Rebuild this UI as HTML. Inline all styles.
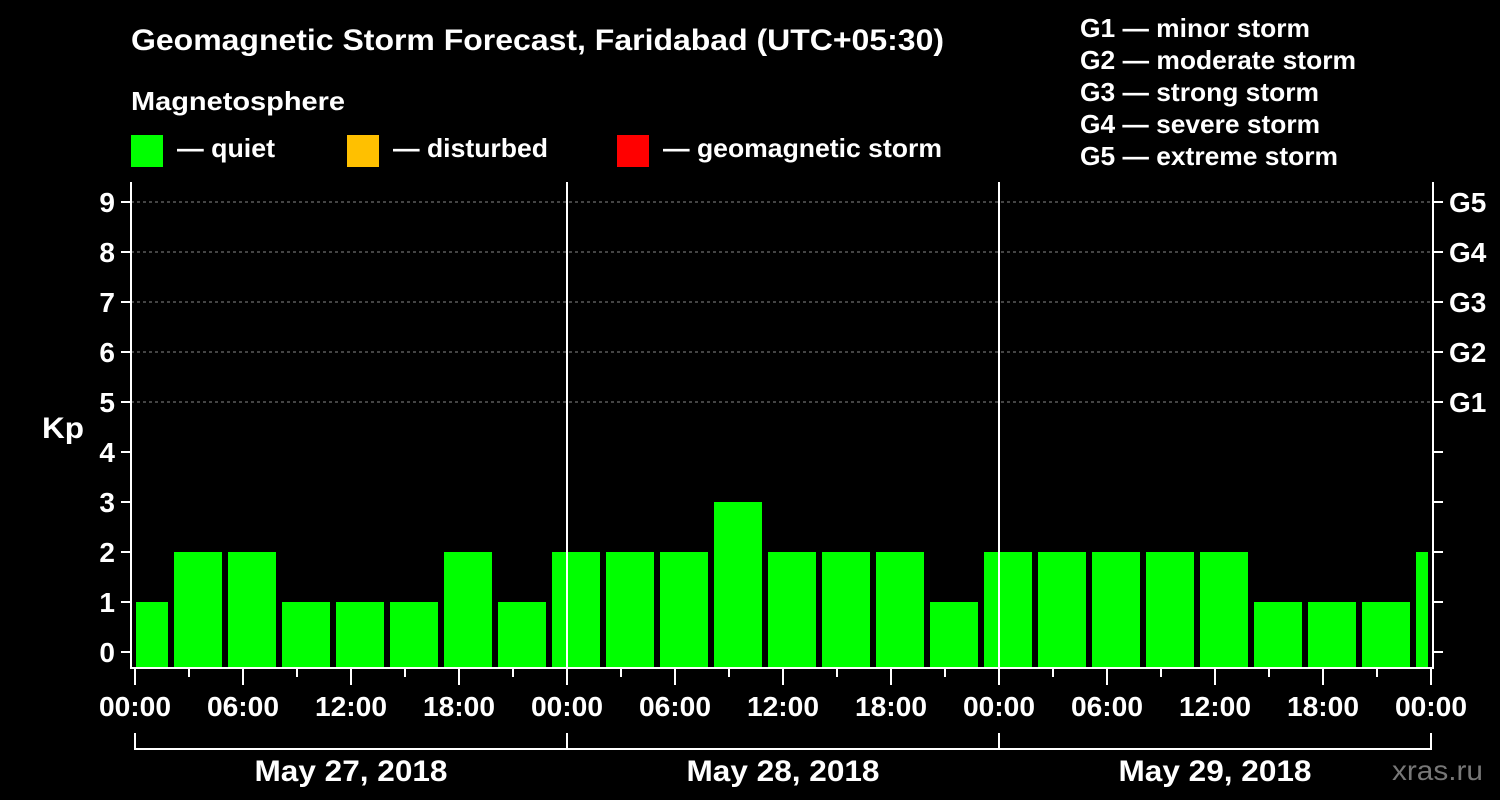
<!DOCTYPE html>
<html><head><meta charset="utf-8"><style>
html,body{margin:0;padding:0;background:#000;}
svg{display:block;font-family:"Liberation Sans",Arial,sans-serif;font-weight:bold;}
</style></head><body>
<svg width="1500" height="800" viewBox="0 0 1500 800">
<rect width="1500" height="800" fill="#000"/>
<text x="131" y="50" fill="#fff" font-size="30" textLength="813" lengthAdjust="spacingAndGlyphs">Geomagnetic Storm Forecast, Faridabad (UTC+05:30)</text>
<text x="131" y="110" fill="#fff" font-size="26" textLength="214" lengthAdjust="spacingAndGlyphs">Magnetosphere</text>
<g><rect x="131" y="135" width="32" height="32" fill="#00ff00"/><text x="177" y="157" fill="#fff" font-size="26" textLength="98" lengthAdjust="spacingAndGlyphs">— quiet</text></g>
<g><rect x="347" y="135" width="32" height="32" fill="#ffc000"/><text x="393" y="157" fill="#fff" font-size="26" textLength="155" lengthAdjust="spacingAndGlyphs">— disturbed</text></g>
<g><rect x="617" y="135" width="32" height="32" fill="#ff0000"/><text x="663" y="157" fill="#fff" font-size="26" textLength="279" lengthAdjust="spacingAndGlyphs">— geomagnetic storm</text></g>
<g fill="#fff" font-size="26">
<text x="1080" y="37" textLength="230" lengthAdjust="spacingAndGlyphs">G1 — minor storm</text>
<text x="1080" y="69" textLength="276" lengthAdjust="spacingAndGlyphs">G2 — moderate storm</text>
<text x="1080" y="101" textLength="239" lengthAdjust="spacingAndGlyphs">G3 — strong storm</text>
<text x="1080" y="133" textLength="240" lengthAdjust="spacingAndGlyphs">G4 — severe storm</text>
<text x="1080" y="165" textLength="258" lengthAdjust="spacingAndGlyphs">G5 — extreme storm</text>
</g>
<text x="42" y="438" fill="#fff" font-size="30" textLength="42" lengthAdjust="spacingAndGlyphs">Kp</text>
<text x="1392" y="780" fill="#777" font-size="28" font-weight="normal" textLength="91" lengthAdjust="spacingAndGlyphs">xras.ru</text>
<g id="grid"></g><g id="bars"></g><g id="axes"></g>
</svg>
<script>
const kpValues=[1,2,2,1,1,1,2,1,2,2,2,3,2,2,2,1,2,2,2,2,2,1,1,1,2];
const hourLabels=["00:00","06:00","12:00","18:00","00:00","06:00","12:00","18:00","00:00","06:00","12:00","18:00","00:00"];
const dayLabels=["May 27, 2018","May 28, 2018","May 29, 2018"];
const gLabels=["G1","G2","G3","G4","G5"];
const NS="http://www.w3.org/2000/svg";
const X0=135,PX_H=18,Y0=652,PX_K=50,BOT=668,LEFT=131,RIGHT=1433,TOP=182;
const firstBoundaryH=2;
function x(h){return X0+h*PX_H;}
function y(k){return Y0-k*PX_K;}
function mk(tag,attrs,parent){const e=document.createElementNS(NS,tag);for(const k in attrs)e.setAttribute(k,attrs[k]);parent.appendChild(e);return e;}
const grid=document.getElementById('grid'),bars=document.getElementById('bars'),axes=document.getElementById('axes');
for(let k=5;k<=9;k++){
 const l=mk('line',{x1:LEFT,x2:RIGHT,y1:y(k),y2:y(k),stroke:'#888','stroke-dasharray':'3,3','stroke-width':1},grid);
 
 
}
kpValues.forEach((v,i)=>{
 let s=x(firstBoundaryH+(i-1)*3)+3,e=x(firstBoundaryH+i*3)-3;
 s=Math.max(s,LEFT+5);e=Math.min(e,RIGHT-5);
 const r=mk('rect',{x:s,y:y(v),width:e-s,height:BOT-y(v),fill:v>=5?'#ff0000':(v>=4?'#ffc000':'#00ff00')},bars);
 
 
});
mk('line',{x1:LEFT,x2:LEFT,y1:TOP,y2:BOT+1,stroke:'#fff','stroke-width':2},axes);
mk('line',{x1:RIGHT,x2:RIGHT,y1:TOP,y2:BOT+1,stroke:'#fff','stroke-width':2},axes);
mk('line',{x1:LEFT,x2:RIGHT,y1:BOT,y2:BOT,stroke:'#fff','stroke-width':2},axes);
for(let d=1;d<3;d++){mk('line',{x1:x(d*24),x2:x(d*24),y1:TOP,y2:BOT,stroke:'#fff','stroke-width':2},axes);}
for(let k=0;k<=9;k++){
 mk('line',{x1:LEFT-10,x2:LEFT,y1:y(k),y2:y(k),stroke:'#fff','stroke-width':2},axes);
 mk('line',{x1:RIGHT,x2:RIGHT+10,y1:y(k),y2:y(k),stroke:'#fff','stroke-width':2},axes);
 const t=mk('text',{x:LEFT-16,y:y(k)+10,fill:'#fff','font-size':28,'text-anchor':'end'},axes);t.textContent=k;
 
 
}
gLabels.forEach((g,i)=>{const t=mk('text',{x:RIGHT+16,y:y(i+5)+10,fill:'#fff','font-size':28},axes);t.textContent=g;
 
 });
for(let h=0;h<=72;h+=3){const big=h%6===0;mk('line',{x1:x(h),x2:x(h),y1:BOT,y2:BOT+(big?17:9),stroke:'#fff','stroke-width':2},axes);}
hourLabels.forEach((l,i)=>{const t=mk('text',{x:x(i*6),y:716,fill:'#fff','font-size':28,'text-anchor':'middle',textLength:72,lengthAdjust:'spacingAndGlyphs'},axes);t.textContent=l;
 
 });
mk('line',{x1:x(0),x2:x(72),y1:749,y2:749,stroke:'#fff','stroke-width':2},axes);
for(let d=0;d<=3;d++)mk('line',{x1:x(d*24),x2:x(d*24),y1:733,y2:750,stroke:'#fff','stroke-width':2},axes);
dayLabels.forEach((l,i)=>{const t=mk('text',{x:x(i*24+12),y:781,fill:'#fff','font-size':30,'text-anchor':'middle',textLength:193,lengthAdjust:'spacingAndGlyphs'},axes);t.textContent=l;
 
 });
</script>
</body></html>
